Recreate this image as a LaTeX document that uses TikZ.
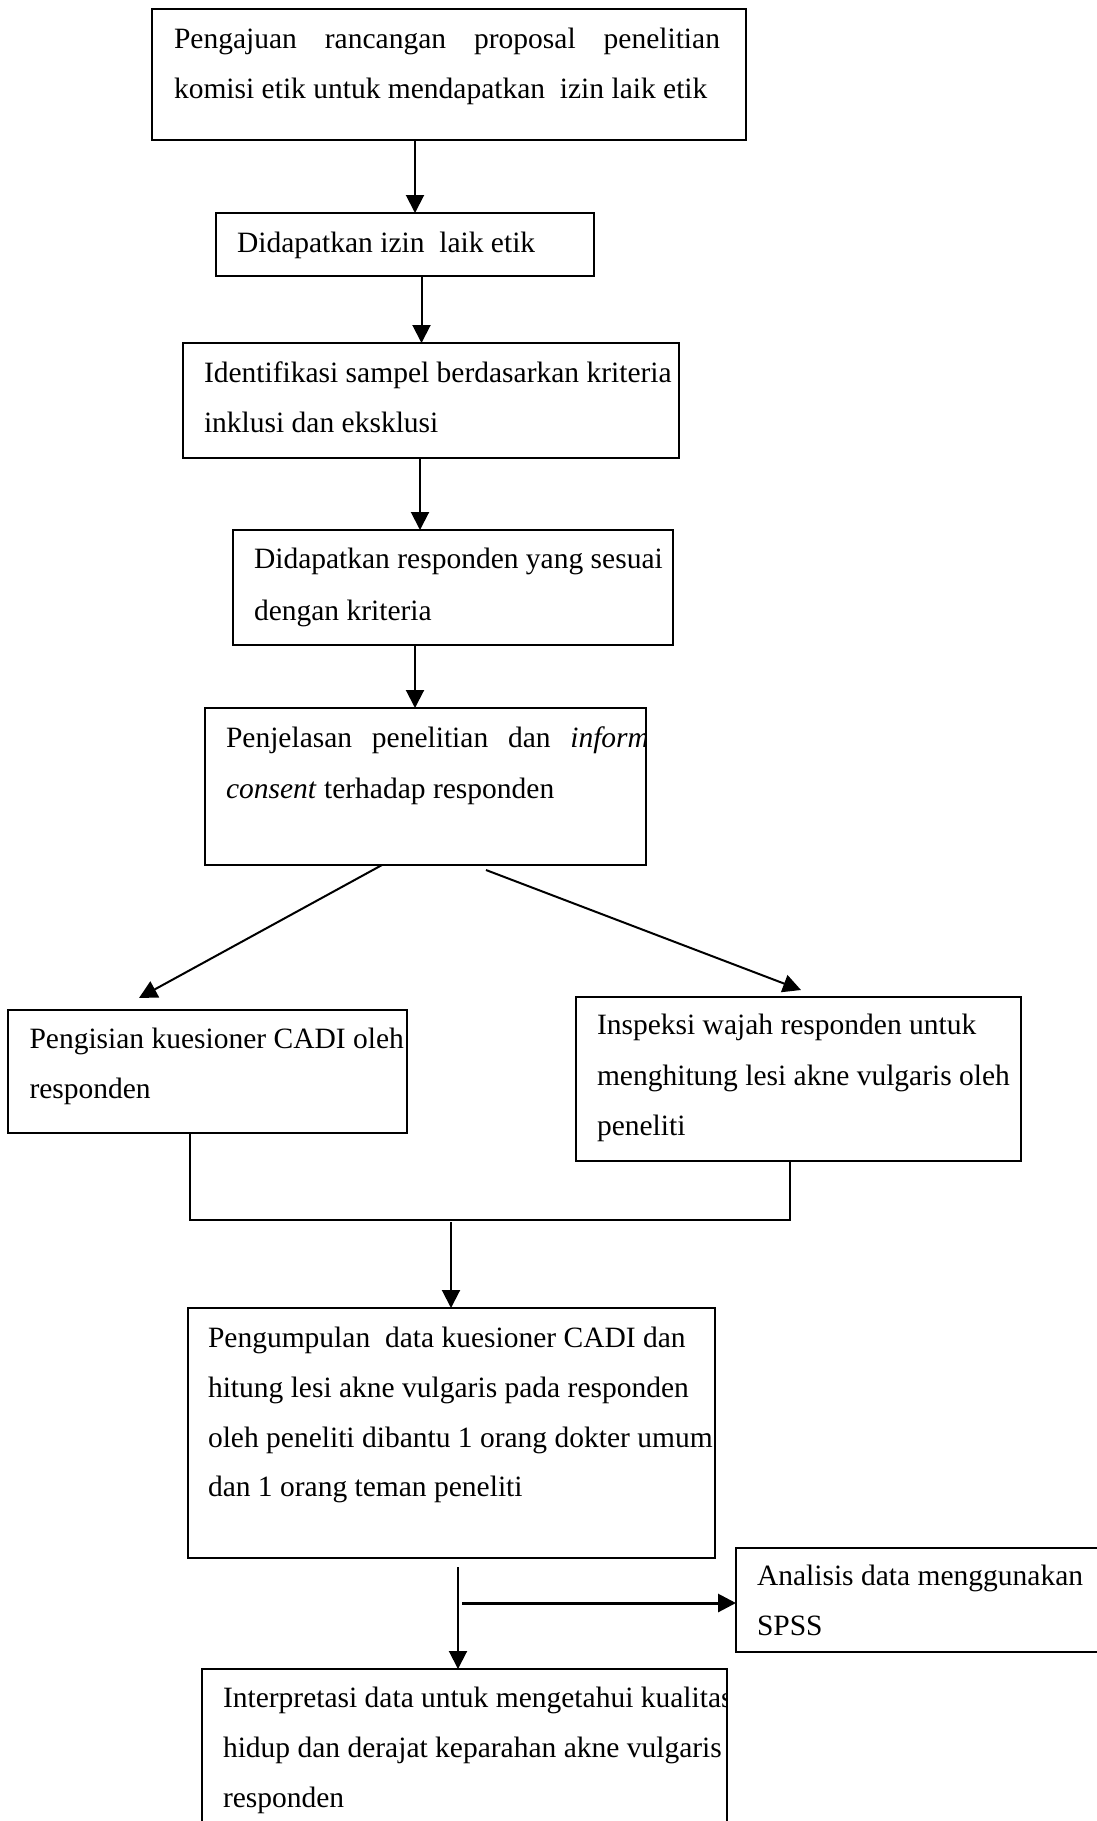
\documentclass[tikz,border=0pt]{standalone}
\usepackage{fontspec}
\setmainfont{Liberation Serif}
\usetikzlibrary{arrows.meta}
\begin{document}
\begin{tikzpicture}[x=1pt,y=-1pt,
  box/.style={draw, line width=2pt, rectangle, inner sep=0pt, outer sep=0pt, anchor=north west},
  txt/.style={inner sep=0pt, outer sep=0pt, anchor=base west, font=\fontsize{29.5}{50}\selectfont},
  arr/.style={-{Triangle[length=18pt,width=18pt]}, line width=2pt},
  link/.style={line width=2pt}]
\fill[white] (0,0) rectangle (1096,1821);
\useasboundingbox (0,0) rectangle (1096,1821);

% boxes
\node[box, minimum width=594pt, minimum height=131pt] (b1) at (152,9) {};
\node[box, minimum width=378pt, minimum height=63pt] (b2) at (216,213) {};
\node[box, minimum width=496pt, minimum height=115pt] (b3) at (183,343) {};
\node[box, minimum width=440pt, minimum height=115pt] (b4) at (233,530) {};
\node[box, minimum width=441pt, minimum height=157pt] (b5) at (205,708) {};
\node[box, minimum width=399pt, minimum height=123pt] (b6) at (8,1010) {};
\node[box, minimum width=445pt, minimum height=164pt] (b7) at (576,997) {};
\node[box, minimum width=527pt, minimum height=250pt] (b8) at (188,1308) {};
\node[box, minimum width=370pt, minimum height=104pt] (b9) at (736,1548) {};
\node[box, minimum width=525pt, minimum height=170pt] (b10) at (202,1669) {};

% texts
\node[txt] (t1a) at (174,48) {\makebox[546pt][s]{Pengajuan rancangan proposal penelitian}};
\node[txt] (t1b) at (174,98) {komisi etik untuk mendapatkan\ \ izin laik etik};
\node[txt] (t2) at (237,252) {Didapatkan izin\ \ laik etik};
\node[txt] (t3a) at (204,382) {Identifikasi sampel berdasarkan kriteria};
\node[txt] (t3b) at (204,432) {inklusi dan eksklusi};
\node[txt] (t4a) at (254,568) {Didapatkan responden yang sesuai};
\node[txt] (t4b) at (254,620) {dengan kriteria};
\begin{scope}
\clip (b5.north west) rectangle (b5.south east);
\node[txt] (t5a) at (226,747) {\makebox[423pt][s]{Penjelasan penelitian dan \textit{inform}}};
\end{scope}
\node[txt] (t5b) at (226,798) {\textit{consent} terhadap responden};
\node[txt] (t6a) at (29.5,1048) {Pengisian kuesioner CADI oleh};
\node[txt] (t6b) at (29.5,1098) {responden};
\node[txt] (t7a) at (597,1034) {Inspeksi wajah responden untuk};
\node[txt] (t7b) at (597,1085) {menghitung lesi akne vulgaris oleh};
\node[txt] (t7c) at (597,1135) {peneliti};
\node[txt] (t8a) at (208,1347) {Pengumpulan\ \ data kuesioner CADI dan};
\node[txt] (t8b) at (208,1397) {hitung lesi akne vulgaris pada responden};
\node[txt] (t8c) at (208,1447) {oleh peneliti dibantu 1 orang dokter umum};
\node[txt] (t8d) at (208,1496) {dan 1 orang teman peneliti};
\node[txt] (t9a) at (757,1585) {Analisis data menggunakan};
\node[txt] (t9b) at (757,1635) {SPSS};
\begin{scope}
\clip (b10.north west) rectangle (b10.south east);
\node[txt] (t10a) at (223,1707) {Interpretasi data untuk mengetahui kualitas};
\end{scope}
\node[txt] (t10b) at (223,1757) {hidup dan derajat keparahan akne vulgaris};
\node[txt] (t10c) at (223,1807) {responden};

% connector coordinates
\coordinate (x1) at (415,0);
\coordinate (x2) at (421.5,0);
\coordinate (x3) at (420,0);
\coordinate (x4) at (415,0);
\coordinate (xl) at (382,0);
\coordinate (xr) at (486,870);
\coordinate (el) at (139,998);
\coordinate (er) at (801,990);
\coordinate (ml) at (190,1220);
\coordinate (mr) at (790,1220);
\coordinate (mstart) at (451,1222);
\coordinate (x8) at (458,1567);
\coordinate (sp) at (462,1603);

% connectors
\draw[arr] (b1.south -| x1) -- (b2.north -| x1);
\draw[arr] (b2.south -| x2) -- (b3.north -| x2);
\draw[arr] (b3.south -| x3) -- (b4.north -| x3);
\draw[arr] (b4.south -| x4) -- (b5.north -| x4);
\draw[arr] (b5.south -| xl) -- (el);
\draw[arr] (xr) -- (er);
\draw[link] (b6.south -| ml) -- (ml) -- (mr) -- (b7.south -| mr);
\draw[arr] (mstart) -- (b8.north -| mstart);
\draw[arr] (x8) -- (b10.north -| x8);
\draw[-{Triangle[length=18pt,width=18pt]}, line width=3pt] (sp) -- (sp -| b9.west);
\end{tikzpicture}
\end{document}
